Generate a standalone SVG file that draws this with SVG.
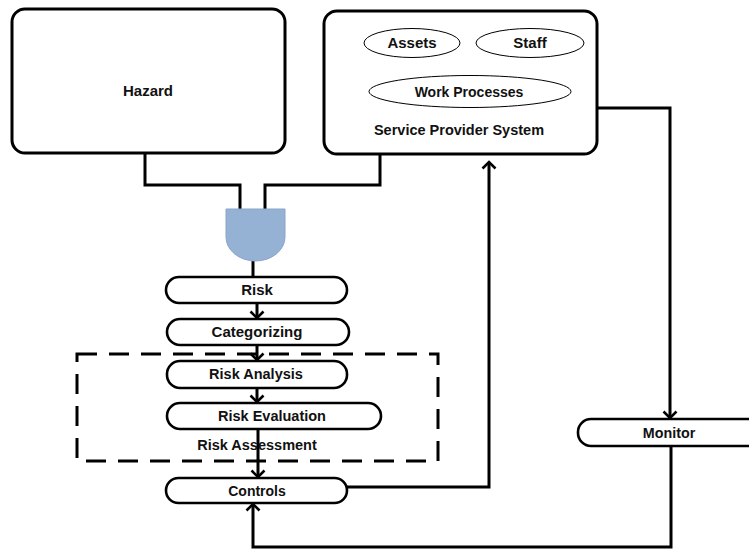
<svg xmlns="http://www.w3.org/2000/svg" width="749" height="550" viewBox="0 0 749 550">
  <defs>
    <style>
      .box { fill: #ffffff; stroke: #000000; stroke-width: 3; }
      .pill { fill: #ffffff; stroke: #000000; stroke-width: 2.6; }
      .oval { fill: #ffffff; stroke: #000000; stroke-width: 1; }
      .wire { fill: none; stroke: #000000; stroke-width: 3; stroke-linejoin: miter; }
      .frame { fill: none; stroke: #000000; stroke-width: 3; stroke-dasharray: 20 12; }
      .lbl { font-family: "Liberation Sans", Arial, sans-serif; font-weight: bold; font-size: 14.5px; fill: #111111; text-anchor: middle; }
    </style>
    <marker id="arrow" viewBox="-8 -8 10 16" refX="0" refY="0" markerWidth="10" markerHeight="16" markerUnits="userSpaceOnUse" orient="auto">
      <path d="M-6.5,-6.5 L0,0 L-6.5,6.5" fill="none" stroke="#000000" stroke-width="2.6"/>
    </marker>
  </defs>
  <rect width="749" height="550" fill="#ffffff"/>

  <!-- connectors -->
  <g id="connectors">
    <path class="wire" d="M145,153 V185 H240 V209"/>
    <path class="wire" d="M380,154 V185 H265 V209"/>
    <path class="wire" d="M253,261 V277"/>
    <path class="wire" d="M257,303 V318" marker-end="url(#arrow)"/>
    <path class="wire" d="M257,345 V360" marker-end="url(#arrow)"/>
    <path class="wire" d="M257,388 V402" marker-end="url(#arrow)"/>
    <path class="wire" d="M258,429 V477" marker-end="url(#arrow)"/>
    <path class="wire" d="M347,487 H489 V162" marker-end="url(#arrow)"/>
    <path class="wire" d="M597,108 H670 V418" marker-end="url(#arrow)"/>
    <path class="wire" d="M671,446 V547 H253 V504" marker-end="url(#arrow)"/>
  </g>

  <!-- dashed assessment frame -->
  <g id="risk-assessment">
    <rect class="frame" x="77" y="354" width="361" height="107"/>
    <text class="lbl" x="257" y="450">Risk Assessment</text>
  </g>

  <g id="hazard">
    <rect class="box" x="12" y="9" width="273" height="144" rx="13"/>
    <text class="lbl" x="148" y="96" style="font-size:15px">Hazard</text>
  </g>

  <g id="service-provider-system">
    <rect class="box" x="324" y="11" width="273" height="143" rx="13"/>
    <text class="lbl" x="459" y="135">Service Provider System</text>
  </g>

  <g id="assets">
    <ellipse class="oval" cx="412" cy="43" rx="48" ry="14.5"/>
    <text class="lbl" x="412" y="48" style="font-size:15px">Assets</text>
  </g>

  <g id="staff">
    <ellipse class="oval" cx="530" cy="43" rx="54" ry="14.5"/>
    <text class="lbl" x="530" y="48" style="font-size:15px">Staff</text>
  </g>

  <g id="work-processes">
    <ellipse class="oval" cx="470" cy="91.5" rx="101" ry="16"/>
    <text class="lbl" x="469" y="97" style="font-size:14px">Work Processes</text>
  </g>

  <g id="and-gate">
    <path d="M226,209 H285 V237 A29.5,24 0 0 1 226,237 Z" fill="#95b1d4" stroke="#8aa5c8" stroke-width="1"/>
  </g>

  <g id="risk">
    <rect class="pill" x="166" y="277" width="181" height="26" rx="13"/>
    <text class="lbl" x="257" y="295" style="font-size:15px">Risk</text>
  </g>

  <g id="categorizing">
    <rect class="pill" x="167" y="319" width="182" height="26" rx="13"/>
    <text class="lbl" x="257" y="337" style="font-size:15px">Categorizing</text>
  </g>

  <g id="risk-analysis">
    <rect class="pill" x="167" y="361" width="180" height="27" rx="13"/>
    <text class="lbl" x="256" y="379">Risk Analysis</text>
  </g>

  <g id="risk-evaluation">
    <rect class="pill" x="167" y="403" width="214" height="26" rx="13"/>
    <text class="lbl" x="272" y="421">Risk Evaluation</text>
  </g>

  <g id="controls">
    <rect class="pill" x="166" y="478" width="181" height="25" rx="12.5"/>
    <text class="lbl" x="257" y="496" style="font-size:14px">Controls</text>
  </g>

  <g id="monitor">
    <rect class="pill" x="578" y="419" width="200" height="27" rx="13"/>
    <text class="lbl" x="669" y="438" style="font-size:14.3px">Monitor</text>
  </g>
</svg>
